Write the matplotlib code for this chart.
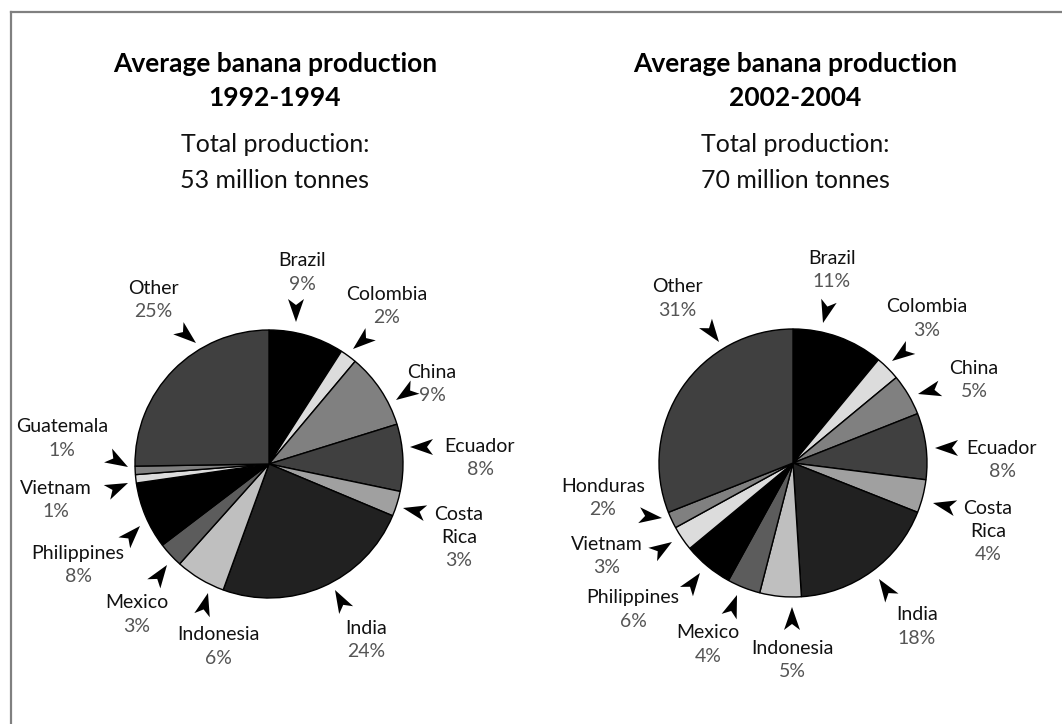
import matplotlib
matplotlib.use("Agg")
import matplotlib.pyplot as plt
from matplotlib.patches import Polygon
from matplotlib.lines import Line2D
import numpy as np

# ─── 数据 ─────────────────────────────────────────
countries_9294 = ['Brazil', 'Colombia', 'China', 'Ecuador', 'Costa Rica', 'India',
                  'Indonesia', 'Mexico', 'Philippines', 'Vietnam', 'Guatemala', 'Other']
share_9294 = [9, 2, 9, 8, 3, 24, 6, 3, 8, 1, 1, 25]

countries_0204 = ['Brazil', 'Colombia', 'China', 'Ecuador', 'Costa Rica', 'India',
                  'Indonesia', 'Mexico', 'Philippines', 'Vietnam', 'Honduras', 'Other']
share_0204 = [11, 3, 5, 8, 4, 18, 5, 4, 6, 3, 2, 31]

periods = ['1992-1994', '2002-2004']
totals = [53, 70]

wedge_colors = ['#000000', '#dcdcdc', '#808080', '#404040', '#a0a0a0', '#212121',
                '#bfbfbf', '#5c5c5c', '#000000', '#dcdcdc', '#808080', '#404040']

# ─── 版面 (像素, y 从上往下) ─────────────────────
W, H = 1062, 724
pie_centers = [(269, 464), (793, 463)]
pie_radius = 134
title_x = [275, 795]

# (标签中心 x, y, 箭头尖 x, y, 箭头方向角)
layout_9294 = [
    (302, 261, 296, 322, -90),
    (387, 294, 353, 349, -140),
    (432, 372, 396, 400, -146),
    (480, 446, 410, 447, 180),
    (459, 514, 403, 508, 167),
    (366, 628, 335, 590, 119),
    (218, 635, 208, 593, 75),
    (137, 603, 167, 565, 55),
    (78, 553, 140, 526, 47),
    (56, 488, 128, 483, 24),
    (62, 427, 128, 467, -30),
    (153, 288, 196, 343, -40),
]
layout_0204 = [
    (832, 258, 823, 323, -105),
    (927, 307, 892, 361, -144),
    (974, 368, 918, 394, -166),
    (1002, 448, 935, 448, 180),
    (988, 508, 933, 503, 167),
    (917, 615, 879, 579, 124),
    (792, 648, 792, 607, 90),
    (708, 633, 737, 595, 70),
    (633, 598, 700, 573, 54),
    (607, 544, 672, 542, 33),
    (603, 486, 662, 518, -7),
    (677, 287, 719, 342, -54),
]

plt.rcParams['font.family'] = ['Lato', 'DejaVu Sans']

fig = plt.figure(figsize=(W / 100, H / 100), dpi=100)
ax = fig.add_axes([0, 0, 1, 1])


def draw_arrow(tip_x, tip_y, ang, L=23, Wd=16, notch=17):
    tip = np.array([tip_x, H - tip_y], dtype=float)
    d = np.array([np.cos(np.radians(ang)), np.sin(np.radians(ang))])
    p = np.array([-d[1], d[0]])
    back = tip - L * d
    pts = [tip, back + Wd / 2 * p, tip - notch * d, back - Wd / 2 * p]
    ax.add_patch(Polygon(pts, closed=True, facecolor='black', edgecolor='none', zorder=5))


def draw_label(name, pct, x, y, gap=23.5):
    lines = name.split(' ') if name == 'Costa Rica' else [name]
    for i, ln in enumerate(lines):
        ax.text(x, H - (y + i * gap), ln, ha='center', va='center',
                fontsize=14, color='#111111')
    ax.text(x, H - (y + len(lines) * gap), f'{pct}%', ha='center', va='center',
            fontsize=14, color='#555555')


datasets = [(countries_9294, share_9294, layout_9294),
            (countries_0204, share_0204, layout_0204)]

for k, (names, vals, lay) in enumerate(datasets):
    cx, cy = pie_centers[k]
    ax.pie(vals, colors=wedge_colors, startangle=90, counterclock=False,
           center=(cx, H - cy), radius=pie_radius,
           wedgeprops=dict(edgecolor='black', linewidth=1.0))
    for name, v, (lx, ly, tx, ty, a) in zip(names, vals, lay):
        draw_label(name, v, lx, ly)
        draw_arrow(tx, ty, a)

    tx0 = title_x[k]
    ax.text(tx0, H - 72, 'Average banana production', ha='center', va='baseline',
            fontsize=19, fontweight='bold', color='black')
    ax.text(tx0, H - 106, periods[k], ha='center', va='baseline',
            fontsize=19, fontweight='bold', color='black')
    ax.text(tx0, H - 152, 'Total production:', ha='center', va='baseline',
            fontsize=18, color='#111111')
    ax.text(tx0, H - 188, f'{totals[k]} million tonnes', ha='center', va='baseline',
            fontsize=18, color='#111111')

ax.set_xlim(0, W)
ax.set_ylim(0, H)
ax.set_aspect('equal')
ax.axis('off')

# 外框 (只有上边和左边)
ax.add_line(Line2D([11, W], [H - 12, H - 12], color='#808080', linewidth=1.6))
ax.add_line(Line2D([11, 11], [H - 12, 0], color='#808080', linewidth=1.6))

fig.savefig('out.png', dpi=100)
